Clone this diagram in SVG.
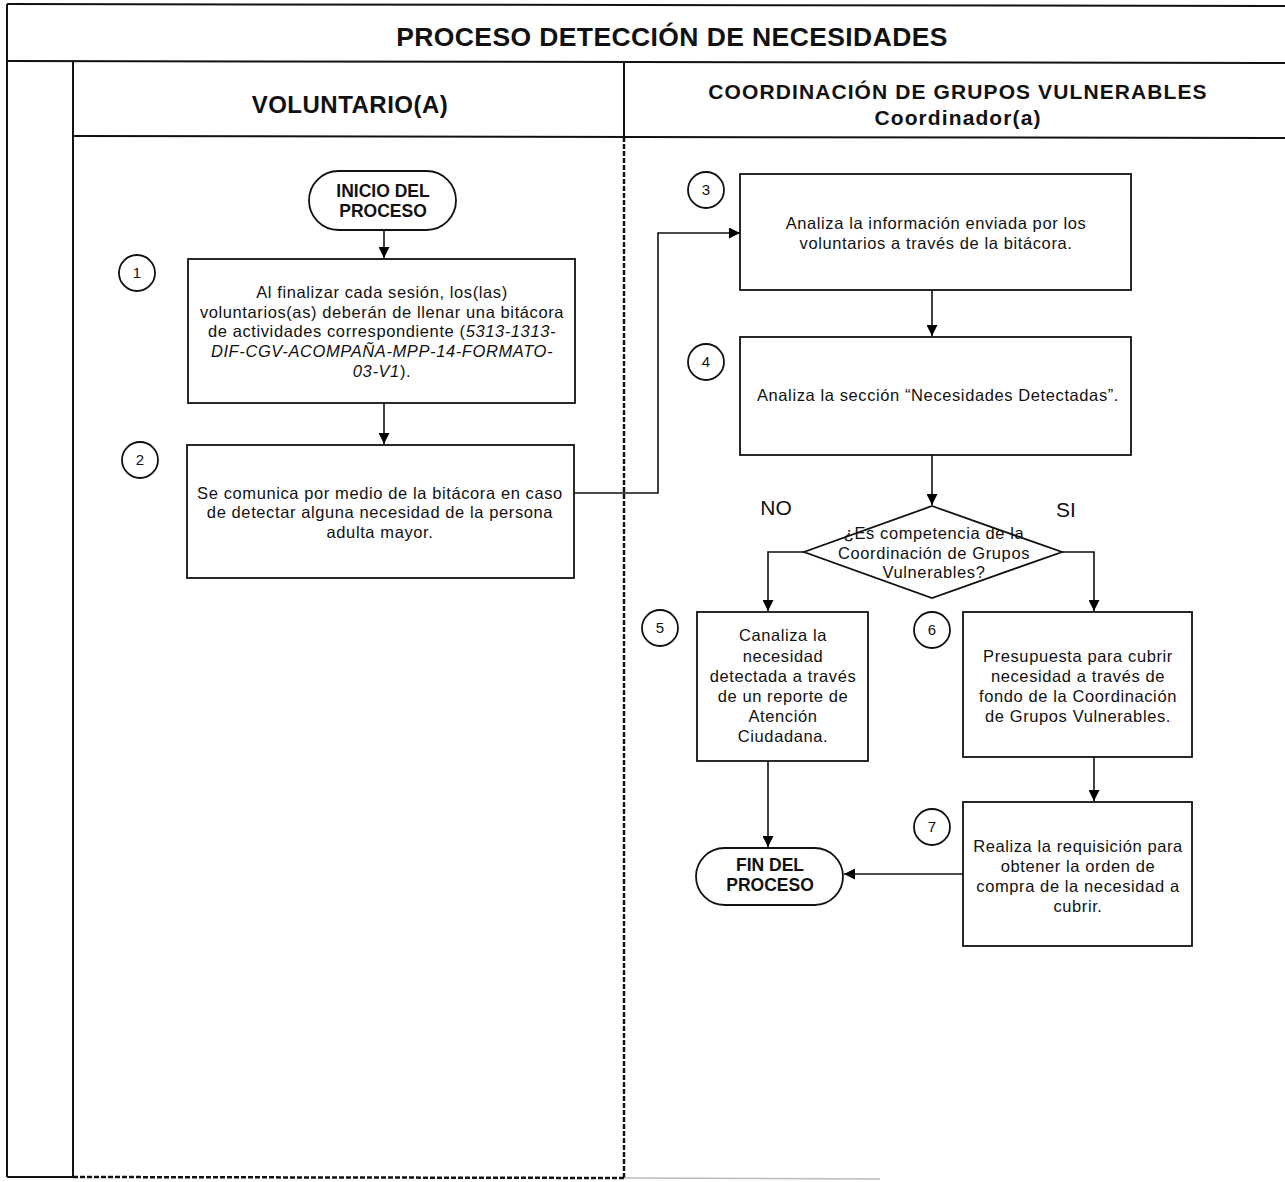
<svg xmlns="http://www.w3.org/2000/svg" width="1285" height="1182" viewBox="0 0 1285 1182">
<defs>
<marker id="ah" viewBox="0 0 10 10" refX="10" refY="5" markerWidth="11" markerHeight="11" markerUnits="userSpaceOnUse" orient="auto">
<path d="M0,0 L10,5 L0,10 Z" fill="#000"/>
</marker>
<style>
.frame{stroke:#111;stroke-width:2;fill:none}
.dash{stroke:#111;stroke-width:2.5;stroke-dasharray:5 2;fill:none}
.shape{stroke:#111;stroke-width:1.8;fill:#fff}
.conn{stroke:#111;stroke-width:1.6;fill:none;marker-end:url(#ah)}
text{font-family:"Liberation Sans",Arial,sans-serif;fill:#111;text-anchor:middle}
.t{font-size:16.5px;letter-spacing:0.6px}
.tb{font-size:17.5px;font-weight:bold}
.num{font-size:15px}
.h1{font-size:26.5px;font-weight:bold;letter-spacing:0.4px}
.h2{font-size:24px;font-weight:bold;letter-spacing:0.5px}
.h3{font-size:21px;font-weight:bold;letter-spacing:1.1px}
.lbl{font-size:21px}
</style>
</defs>
<rect width="1285" height="1182" fill="#fff"/>
<g id="frame">
<line class="frame" x1="7" y1="4" x2="1285" y2="6"/>
<line class="frame" x1="7" y1="4" x2="7" y2="1177"/>
<line class="frame" x1="7" y1="61" x2="1285" y2="63"/>
<line class="frame" x1="73" y1="61" x2="73" y2="1177"/>
<line class="frame" x1="73" y1="136" x2="1285" y2="138"/>
<line class="frame" x1="624" y1="62" x2="624" y2="137"/>
<line class="dash" x1="624" y1="137" x2="624" y2="1180"/>
<line class="frame" x1="7" y1="1177" x2="73" y2="1177"/>
<line class="dash" x1="73" y1="1177" x2="624" y2="1178"/>
<line stroke="#bbb" stroke-width="1.5" x1="624" y1="1178" x2="880" y2="1179"/>
<text class="h1" x="672" y="46">PROCESO DETECCIÓN DE NECESIDADES</text>
<text class="h2" x="350" y="113">VOLUNTARIO(A)</text>
<text class="h3" x="958" y="99">COORDINACIÓN DE GRUPOS VULNERABLES</text>
<text class="h3" x="958" y="125">Coordinador(a)</text>
</g>
<g id="connectors">
<line class="conn" x1="384" y1="230" x2="384" y2="258"/>
<line class="conn" x1="384" y1="403" x2="384" y2="444"/>
<polyline class="conn" points="574,493 658,493 658,233 740,233"/>
<line class="conn" x1="932" y1="290" x2="932" y2="336"/>
<line class="conn" x1="932" y1="455" x2="932" y2="505"/>
<polyline class="conn" points="804,552 768,552 768,611"/>
<polyline class="conn" points="1062,552 1094,552 1094,611"/>
<line class="conn" x1="768" y1="761" x2="768" y2="847"/>
<line class="conn" x1="1094" y1="757" x2="1094" y2="801"/>
<line class="conn" x1="963" y1="874" x2="844" y2="874"/>
<text class="lbl" x="776" y="515">NO</text>
<text class="lbl" x="1066" y="517">SI</text>
</g>
<g id="inicio">
<rect class="shape" x="309" y="171" width="147" height="59" rx="29.5"/>
<text class="tb" x="383" y="197">INICIO DEL</text>
<text class="tb" x="383" y="217">PROCESO</text>
</g>
<g id="step1">
<rect class="shape" x="188" y="259" width="387" height="144"/>
<text class="t" x="382" y="298">Al finalizar cada sesión, los(las)</text>
<text class="t" x="382" y="318">voluntarios(as) deberán de llenar una bitácora</text>
<text class="t" x="382" y="337">de actividades correspondiente (<tspan font-style="italic">5313-1313-</tspan></text>
<text class="t" x="382" y="357" font-style="italic">DIF-CGV-ACOMPAÑA-MPP-14-FORMATO-</text>
<text class="t" x="382" y="377"><tspan font-style="italic">03-V1</tspan>).</text>
<circle class="shape" cx="137" cy="273" r="18"/>
<text class="num" x="137" y="278">1</text>
</g>
<g id="step2">
<rect class="shape" x="187" y="445" width="387" height="133"/>
<text class="t" x="380" y="499">Se comunica por medio de la bitácora en caso</text>
<text class="t" x="380" y="518">de detectar alguna necesidad de la persona</text>
<text class="t" x="380" y="538">adulta mayor.</text>
<circle class="shape" cx="140" cy="460" r="18"/>
<text class="num" x="140" y="465">2</text>
</g>
<g id="step3">
<rect class="shape" x="740" y="174" width="391" height="116"/>
<text class="t" x="936" y="229">Analiza la información enviada por los</text>
<text class="t" x="936" y="249">voluntarios a través de la bitácora.</text>
<circle class="shape" cx="706" cy="190" r="18"/>
<text class="num" x="706" y="195">3</text>
</g>
<g id="step4">
<rect class="shape" x="740" y="337" width="391" height="118"/>
<text class="t" x="938" y="401">Analiza la sección “Necesidades Detectadas”.</text>
<circle class="shape" cx="706" cy="362" r="18"/>
<text class="num" x="706" y="367">4</text>
</g>
<g id="decision">
<polygon class="shape" points="932,506 1062,552 932,598 804,552"/>
<text class="t" x="934" y="539">¿Es competencia de la</text>
<text class="t" x="934" y="559">Coordinación de Grupos</text>
<text class="t" x="934" y="578">Vulnerables?</text>
</g>
<g id="step5">
<rect class="shape" x="697" y="612" width="171" height="149"/>
<text class="t" x="783" y="641">Canaliza la</text>
<text class="t" x="783" y="662">necesidad</text>
<text class="t" x="783" y="682">detectada a través</text>
<text class="t" x="783" y="702">de un reporte de</text>
<text class="t" x="783" y="722">Atención</text>
<text class="t" x="783" y="742">Ciudadana.</text>
<circle class="shape" cx="660" cy="628" r="18"/>
<text class="num" x="660" y="633">5</text>
</g>
<g id="step6">
<rect class="shape" x="963" y="612" width="229" height="145"/>
<text class="t" x="1078" y="662">Presupuesta para cubrir</text>
<text class="t" x="1078" y="682">necesidad a través de</text>
<text class="t" x="1078" y="702">fondo de la Coordinación</text>
<text class="t" x="1078" y="722">de Grupos Vulnerables.</text>
<circle class="shape" cx="932" cy="630" r="18"/>
<text class="num" x="932" y="635">6</text>
</g>
<g id="step7">
<rect class="shape" x="963" y="802" width="229" height="144"/>
<text class="t" x="1078" y="852">Realiza la requisición para</text>
<text class="t" x="1078" y="872">obtener la orden de</text>
<text class="t" x="1078" y="892">compra de la necesidad a</text>
<text class="t" x="1078" y="912">cubrir.</text>
<circle class="shape" cx="932" cy="827" r="18"/>
<text class="num" x="932" y="832">7</text>
</g>
<g id="fin">
<rect class="shape" x="696" y="848" width="147" height="57" rx="28.5"/>
<text class="tb" x="770" y="871">FIN DEL</text>
<text class="tb" x="770" y="891">PROCESO</text>
</g>
</svg>
